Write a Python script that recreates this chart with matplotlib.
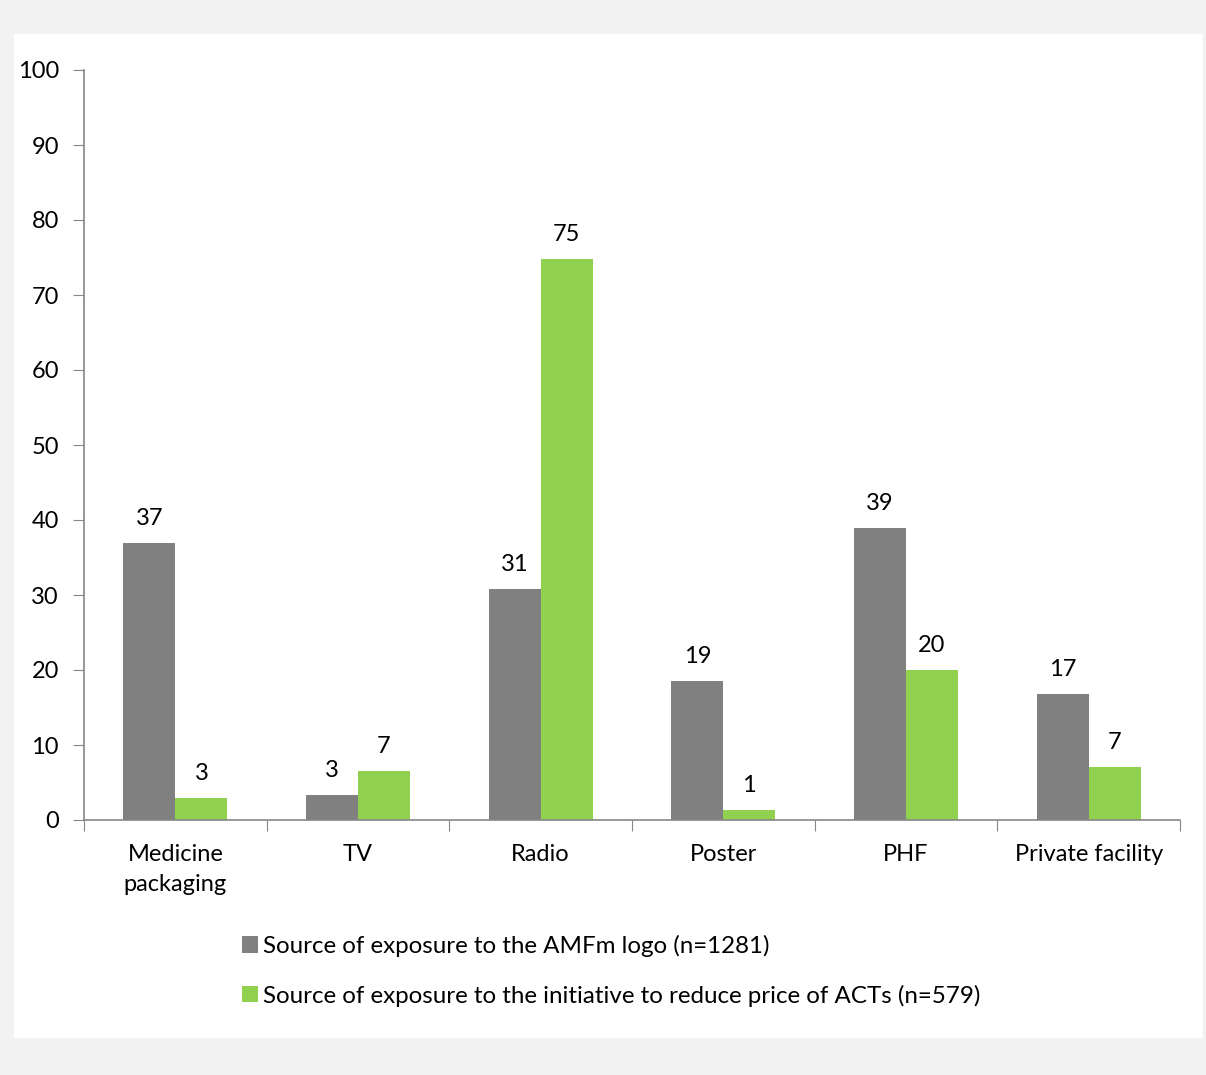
import matplotlib.pyplot as plt
import matplotlib.patches as mpatches
import numpy as np

plt.rcParams['font.family'] = ['Lato', 'DejaVu Sans']

categories = ["Medicine\npackaging", "TV", "Radio", "Poster", "PHF", "Private facility"]
logo_vals = [36.9, 3.3, 30.8, 18.6, 38.9, 16.8]
price_vals = [2.9, 6.6, 74.8, 1.3, 20.0, 7.1]
series_names = ["Source of exposure to the AMFm logo (n=1281)",
                "Source of exposure to the initiative to reduce price of ACTs (n=579)"]
yticks = [0, 10, 20, 30, 40, 50, 60, 70, 80, 90, 100]

gray = "#808080"
green = "#92d050"
axis_col = "#868686"
fs = 17

W, H = 1206, 1075
fig = plt.figure(figsize=(W / 100, H / 100), dpi=100)
fig.patch.set_facecolor("#f2f2f2")

# white panel behind the chart
fig.patches.append(mpatches.Rectangle((14 / W, 1 - 1038 / H), (1203 - 14) / W, (1038 - 34) / H,
                                      transform=fig.transFigure, facecolor="white",
                                      edgecolor="none", zorder=-5))

ax = fig.add_axes([84 / W, 1 - 820 / H, (1180 - 84) / W, (820 - 70) / H])
ax.set_facecolor("none")
ax.set_zorder(2)

x = np.arange(len(categories))
bw = 0.285
b1 = ax.bar(x - bw / 2, logo_vals, bw, color=gray, label=series_names[0])
b2 = ax.bar(x + bw / 2, price_vals, bw, color=green, label=series_names[1])

for bars in (b1, b2):
    for b in bars:
        h = b.get_height()
        ax.annotate(f"{h:.0f}", (b.get_x() + b.get_width() / 2, h),
                    xytext=(0, 10), textcoords="offset points",
                    ha="center", va="bottom", fontsize=fs)

ax.set_xlim(-0.5, len(categories) - 0.5)
ax.set_ylim(0, 100)
ax.set_yticks(yticks)
ax.tick_params(axis="y", direction="out", length=8, color=axis_col, labelsize=fs, pad=10)

ax.set_xticks(np.arange(len(categories) + 1) - 0.5, minor=False)
ax.set_xticklabels([])
ax.tick_params(axis="x", which="major", direction="out", length=8, color=axis_col)
ax.set_xticks(x, minor=True)
ax.set_xticklabels(categories, minor=True, fontsize=fs, va="top", linespacing=1.55)
ax.tick_params(axis="x", which="minor", length=0, pad=17)

for s in ["top", "right"]:
    ax.spines[s].set_visible(False)
for s in ["left", "bottom"]:
    ax.spines[s].set_color(axis_col)
    ax.spines[s].set_linewidth(1.2)

leg = ax.legend(loc="upper left", bbox_to_anchor=(232 / W, 1 - 925 / H),
                bbox_transform=fig.transFigure, frameon=False, fontsize=17.4,
                handlelength=0.68, handleheight=0.68, handletextpad=0.2,
                labelspacing=1.15, borderaxespad=0)

fig.savefig("out.png", dpi=100, facecolor=fig.get_facecolor())
